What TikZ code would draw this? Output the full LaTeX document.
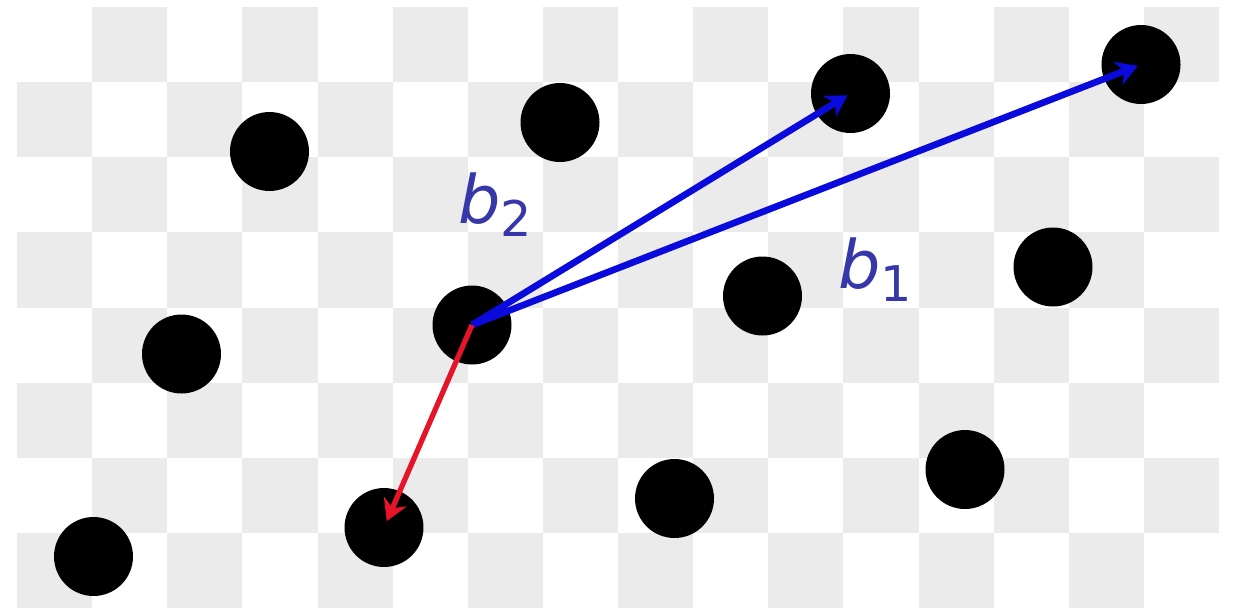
\documentclass[tikz,border=0pt]{standalone}
\usepackage{fontspec}
\setmainfont{DejaVu Sans}
\usepackage{tikz}
\usetikzlibrary{arrows.meta}
\definecolor{checkgray}{RGB}{235,235,235}
\definecolor{vecblue}{RGB}{10,10,220}
\definecolor{labelblue}{RGB}{55,55,170}
\definecolor{vecred}{RGB}{230,20,40}

\begin{document}
\begin{tikzpicture}[x=0.02cm,y=-0.02cm,
  dot/.style={circle,fill=black,inner sep=0pt,minimum size=1.58cm},
  basis/.style={vecblue,line width=3.8pt,-{Stealth[length=12pt,width=14pt]},shorten >=2pt},
  short/.style={vecred,line width=3pt,-{Stealth[length=12pt,width=14pt]},shorten >=4pt},
  blab/.style={labelblue,inner sep=0pt,anchor=base west,font=\fontsize{38}{40}\selectfont}]
\useasboundingbox (0,0) rectangle (1236,613);
\fill[white] (0,0) rectangle (1236,613);
% checkerboard background
\foreach \r in {0,...,7}
  \foreach \c in {0,...,15} {
    \pgfmathtruncatemacro{\odd}{mod(\r+\c,2)}
    \ifnum\odd=1
      \fill[checkgray] ({17+75.125*\c},{7+75.125*\r}) rectangle ++(75.125,75.125);
    \fi
  }
% lattice points
\foreach \i in {0,...,3}
  \foreach \j in {0,...,2}
    \node[dot] (p\i\j) at ({472+290.5*(\i-1)-88*(\j-1)},{325-29*(\i-1)+202.5*(\j-1)}) {};
\draw[basis] (p11.center) -- (p30.center);
\draw[basis] (p11.center) -- (p20.center);
\draw[short] (p11.center) -- (p12.center);
\node[blab] (b2) at (458,223) {{\itshape b}\raisebox{-0.2em}{\fontsize{28}{30}\selectfont 2}};
\node[blab] (b1) at (838,288) {{\itshape b}\raisebox{-0.2em}{\fontsize{28}{30}\selectfont 1}};
\end{tikzpicture}
\end{document}
